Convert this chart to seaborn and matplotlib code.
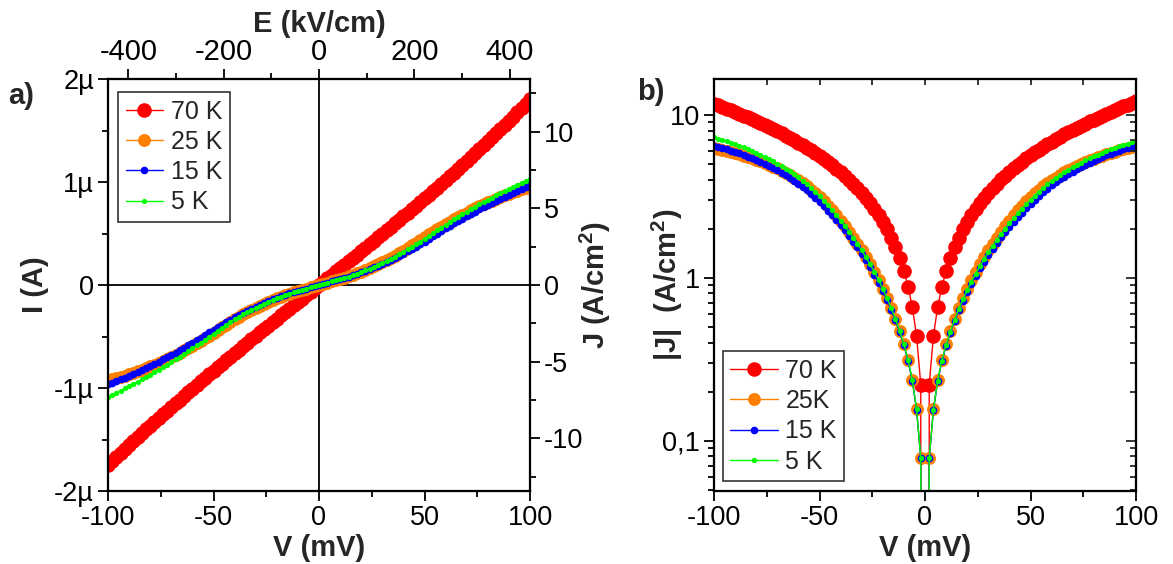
import matplotlib
matplotlib.use("Agg")
import matplotlib.pyplot as plt
from matplotlib.ticker import MultipleLocator, FixedLocator, LogLocator, NullFormatter
import pandas as pd
import seaborn as sns

# bias sweep (mV), 2 mV step
volt = list(range(-100, 101, 2))

# |J| (A/cm2), reverse branch (-100 -> -2 mV) and forward branch (2 -> 100 mV)
j70_rev = [11.700, 11.439, 11.179, 10.921, 10.665, 10.410, 10.157, 9.905, 9.655, 9.406,
           9.158, 8.912, 8.667, 8.424, 8.181, 7.940, 7.700, 7.461, 7.224, 6.987,
           6.751, 6.517, 6.283, 6.050, 5.818, 5.588, 5.357, 5.128, 4.900, 4.672,
           4.445, 4.218, 3.993, 3.768, 3.543, 3.319, 3.095, 2.872, 2.650, 2.427,
           2.206, 1.984, 1.763, 1.542, 1.321, 1.101, 0.880, 0.660, 0.440, 0.220]
j70_fwd = [0.220, 0.440, 0.660, 0.881, 1.101, 1.322, 1.543, 1.765, 1.986, 2.209,
           2.432, 2.655, 2.879, 3.104, 3.330, 3.556, 3.783, 4.011, 4.240, 4.470,
           4.702, 4.934, 5.167, 5.402, 5.638, 5.875, 6.113, 6.353, 6.595, 6.838,
           7.082, 7.328, 7.576, 7.826, 8.077, 8.331, 8.586, 8.843, 9.102, 9.363,
           9.627, 9.892, 10.160, 10.430, 10.702, 10.977, 11.254, 11.533, 11.815, 12.100]

j25_rev = [6.225, 6.150, 6.072, 5.990, 5.902, 5.812, 5.718, 5.620, 5.517, 5.410,
           5.300, 5.186, 5.066, 4.944, 4.816, 4.684, 4.548, 4.407, 4.262, 4.112,
           3.958, 3.799, 3.635, 3.468, 3.294, 3.117, 2.938, 2.765, 2.595, 2.416,
           2.244, 2.078, 1.918, 1.764, 1.616, 1.474, 1.338, 1.209, 1.085, 0.967,
           0.856, 0.751, 0.651, 0.558, 0.471, 0.390, 0.312, 0.234, 0.156, 0.078]
j25_fwd = [0.078, 0.156, 0.234, 0.312, 0.390, 0.471, 0.558, 0.651, 0.751, 0.856,
           0.967, 1.085, 1.209, 1.338, 1.474, 1.616, 1.764, 1.918, 2.078, 2.244,
           2.416, 2.595, 2.765, 2.938, 3.117, 3.294, 3.468, 3.635, 3.799, 3.958,
           4.118, 4.275, 4.427, 4.575, 4.719, 4.859, 4.996, 5.127, 5.256, 5.380,
           5.499, 5.616, 5.730, 5.838, 5.943, 6.044, 6.143, 6.236, 6.325, 6.412]

j15_rev = [6.480, 6.372, 6.261, 6.148, 6.031, 5.912, 5.790, 5.664, 5.537, 5.406,
           5.272, 5.136, 4.996, 4.854, 4.708, 4.560, 4.409, 4.254, 4.098, 3.937,
           3.774, 3.608, 3.438, 3.267, 3.091, 2.913, 2.741, 2.574, 2.412, 2.254,
           2.100, 1.952, 1.808, 1.668, 1.533, 1.403, 1.278, 1.159, 1.043, 0.933,
           0.829, 0.729, 0.634, 0.546, 0.462, 0.384, 0.308, 0.232, 0.155, 0.078]
j15_fwd = [0.078, 0.154, 0.231, 0.307, 0.381, 0.458, 0.541, 0.629, 0.721, 0.819,
           0.921, 1.028, 1.141, 1.257, 1.379, 1.504, 1.634, 1.769, 1.908, 2.051,
           2.198, 2.350, 2.505, 2.663, 2.828, 3.004, 3.179, 3.350, 3.520, 3.688,
           3.851, 4.014, 4.173, 4.331, 4.485, 4.636, 4.786, 4.933, 5.078, 5.220,
           5.359, 5.496, 5.631, 5.762, 5.892, 6.019, 6.144, 6.265, 6.385, 6.502]

j5_rev = [7.281, 7.150, 7.016, 6.880, 6.740, 6.598, 6.453, 6.305, 6.155, 6.001,
          5.845, 5.686, 5.524, 5.360, 5.192, 5.022, 4.849, 4.673, 4.495, 4.313,
          4.129, 3.942, 3.752, 3.560, 3.364, 3.166, 2.969, 2.779, 2.595, 2.416,
          2.244, 2.078, 1.918, 1.764, 1.616, 1.474, 1.338, 1.209, 1.085, 0.967,
          0.856, 0.751, 0.651, 0.558, 0.471, 0.390, 0.312, 0.234, 0.156, 0.078]
j5_fwd = [0.078, 0.155, 0.233, 0.310, 0.386, 0.465, 0.550, 0.641, 0.737, 0.839,
          0.946, 1.059, 1.178, 1.301, 1.430, 1.564, 1.704, 1.849, 1.999, 2.154,
          2.315, 2.481, 2.651, 2.826, 3.008, 3.196, 3.382, 3.564, 3.745, 3.923,
          4.097, 4.270, 4.439, 4.607, 4.771, 4.932, 5.092, 5.248, 5.402, 5.553,
          5.701, 5.847, 5.990, 6.130, 6.268, 6.403, 6.536, 6.665, 6.793, 6.917]

labels_a = ["70 K", "25 K", "15 K", "5 K"]
labels_b = ["70 K", "25K", "15 K", "5 K"]
colors = ["#ff0000", "#ff8000", "#0000ff", "#00ff00"]
msizes = [10.5, 9.3, 5.5, 3.8]

area_cm2 = 1.49e-7      # junction area
thick_nm = 2.26         # barrier thickness (for E axis)

branches = [(j70_rev, j70_fwd), (j25_rev, j25_fwd), (j15_rev, j15_fwd), (j5_rev, j5_fwd)]
frames = []
for rev, fwd in branches:
    j = [-v for v in rev] + [0.0] + list(fwd)
    d = pd.DataFrame({"V": volt, "J": j})
    d["I_uA"] = d["J"] * area_cm2 * 1e6
    d["absJ"] = d["J"].abs()
    frames.append(d)

sns.set_theme(style="ticks")
plt.rcParams["font.family"] = ["Liberation Sans", "DejaVu Sans"]
plt.rcParams["axes.unicode_minus"] = False
plt.rcParams["mathtext.fontset"] = "custom"
plt.rcParams["mathtext.rm"] = "Liberation Sans"
plt.rcParams["mathtext.bf"] = "Liberation Sans:bold"

W, H = 1173, 564
fig = plt.figure(figsize=(W / 100, H / 100), dpi=100)
ax1 = fig.add_axes([108 / W, 1 - 491 / H, 422 / W, 412 / H])
ax2 = fig.add_axes([714 / W, 1 - 491 / H, 422 / W, 412 / H])

tick_fs = 19.5
lab_fs = 21

# --- panel a: I-V ---
ax1.axhline(0, color="black", lw=1.3, zorder=1)
ax1.axvline(0, color="black", lw=1.3, zorder=1)
for d, lab, c, ms in zip(frames, labels_a, colors, msizes):
    sns.lineplot(data=d, x="V", y="I_uA", ax=ax1, color=c, marker="o", markersize=ms,
                 markeredgewidth=0, linewidth=1.0, label=lab, sort=False, estimator=None)
ax1.set_xlim(-100, 100)
ax1.set_ylim(-2, 2)
ax1.xaxis.set_major_locator(MultipleLocator(50))
ax1.xaxis.set_minor_locator(MultipleLocator(25))
ax1.yaxis.set_major_locator(FixedLocator([-2, -1, 0, 1, 2]))
ax1.set_yticklabels(["-2µ", "-1µ", "0", "1µ", "2µ"])
ax1.yaxis.set_minor_locator(MultipleLocator(0.5))
ax1.set_xlabel("V (mV)", fontsize=lab_fs, fontweight="bold", labelpad=2)
ax1.set_ylabel("I (A)", fontsize=lab_fs, fontweight="bold", labelpad=4)

leg1 = ax1.legend(loc="upper left", bbox_to_anchor=(0.024, 0.968), borderaxespad=0,
                  fancybox=False, framealpha=1, edgecolor="#333333", fontsize=18,
                  handlelength=1.5, handletextpad=0.3, labelspacing=0.25, borderpad=0.3)
leg1.get_frame().set_linewidth(1.2)

axJ = ax1.twinx()
axJ.set_ylim(-2e-6 / area_cm2, 2e-6 / area_cm2)
axJ.yaxis.set_major_locator(MultipleLocator(5))
axJ.yaxis.set_minor_locator(MultipleLocator(2.5))
axJ.set_ylabel("J (A/cm$\\mathbf{^2}$)", fontsize=lab_fs, fontweight="bold", labelpad=-4)

axE = ax1.twiny()
e_max = 100e-3 / (thick_nm * 1e-7) / 1e3
axE.set_xlim(-e_max, e_max)
axE.xaxis.set_major_locator(MultipleLocator(200))
axE.xaxis.set_minor_locator(MultipleLocator(100))
axE.set_xlabel("E (kV/cm)", fontsize=lab_fs, fontweight="bold", labelpad=5)

# --- panel b: |J| on log scale ---
for d, lab, c, ms in zip(frames, labels_b, colors, msizes):
    sns.lineplot(data=d, x="V", y="absJ", ax=ax2, color=c, marker="o", markersize=ms,
                 markeredgewidth=0, linewidth=1.0, label=lab, sort=False, estimator=None)
ax2.set_yscale("log")
ax2.set_xlim(-100, 100)
ax2.set_ylim(0.049, 16.6)
ax2.xaxis.set_major_locator(MultipleLocator(50))
ax2.xaxis.set_minor_locator(MultipleLocator(25))
ax2.yaxis.set_major_locator(FixedLocator([0.1, 1, 10]))
ax2.set_yticklabels(["0,1", "1", "10"])
ax2.yaxis.set_minor_locator(LogLocator(base=10, subs=range(2, 10)))
ax2.yaxis.set_minor_formatter(NullFormatter())
ax2.set_xlabel("V (mV)", fontsize=lab_fs, fontweight="bold", labelpad=2)
ax2.set_ylabel("|J|  (A/cm$\\mathbf{^2}$)", fontsize=lab_fs, fontweight="bold")
ax2.yaxis.set_label_coords(-0.068, 0.5)

leg2 = ax2.legend(loc="lower left", bbox_to_anchor=(0.021, 0.024), borderaxespad=0,
                  fancybox=False, framealpha=1, edgecolor="#333333", fontsize=18,
                  handlelength=1.9, handletextpad=0.3, labelspacing=0.25, borderpad=0.3)
leg2.get_frame().set_linewidth(1.2)

ax2_top = ax2.twiny()
ax2_top.set_xlim(-100, 100)
ax2_top.xaxis.set_major_locator(MultipleLocator(25))
ax2_top.tick_params(axis="x", direction="in", length=4, width=1.3, labeltop=False)
ax2_right = ax2.twinx()
ax2_right.set_yscale("log")
ax2_right.set_ylim(0.049, 16.6)
ax2_right.yaxis.set_major_locator(FixedLocator([0.1, 1, 10]))
ax2_right.yaxis.set_minor_locator(LogLocator(base=10, subs=range(2, 10)))
ax2_right.yaxis.set_minor_formatter(NullFormatter())
ax2_right.tick_params(axis="y", which="major", direction="in", length=7, width=1.3, labelright=False)
ax2_right.tick_params(axis="y", which="minor", direction="in", length=4, width=1.3)

# common styling
for a in [ax1, ax2, axJ, axE, ax2_top, ax2_right]:
    for s in a.spines.values():
        s.set_linewidth(1.5)
        s.set_color("black")
for a in [ax1, ax2, axJ, axE]:
    a.tick_params(which="major", direction="out", length=7, width=1.3, labelsize=tick_fs,
                  color="black", labelcolor="black", pad=3)
    a.tick_params(which="minor", direction="out", length=4, width=1.3, color="black")
axE.tick_params(which="major", labelsize=21, pad=2)

fig.text(8 / W, 1 - 96 / H, "a)", fontsize=lab_fs, fontweight="bold", va="center", ha="left")
fig.text(637 / W, 1 - 92 / H, "b)", fontsize=lab_fs, fontweight="bold", va="center", ha="left")

fig.savefig("out.png", dpi=100)
